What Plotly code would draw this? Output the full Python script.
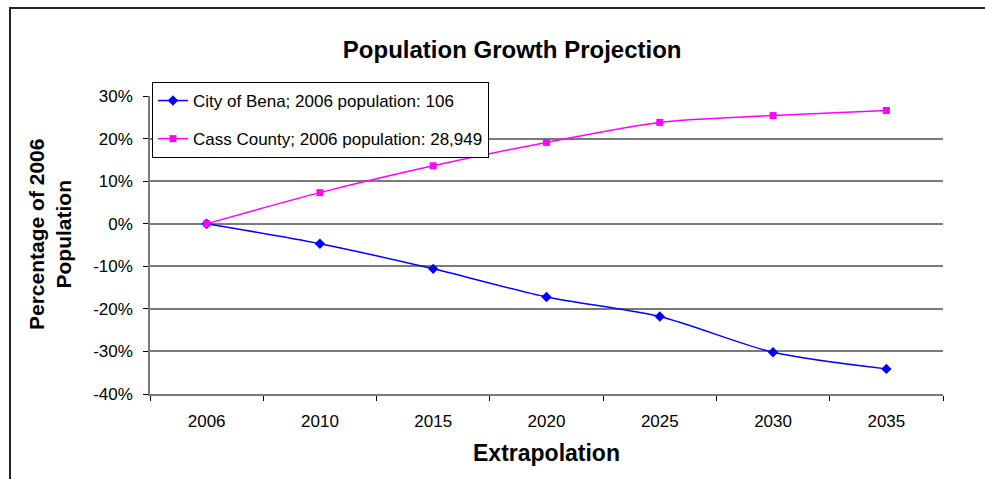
import plotly.graph_objects as go

years = ["2006", "2010", "2015", "2020", "2025", "2030", "2035"]
bena = [0.0, -0.047, -0.106, -0.172, -0.218, -0.302, -0.341]
cass = [0.0, 0.073, 0.136, 0.191, 0.238, 0.254, 0.266]
bena_name = "City of Bena; 2006 population: 106"
cass_name = "Cass County; 2006 population: 28,949"
y_ticks = [-0.4, -0.3, -0.2, -0.1, 0.0, 0.1, 0.2, 0.3]
y_tick_text = ["-40%", "-30%", "-20%", "-10%", "0%", "10%", "20%", "30%"]

FONT = "Liberation Sans, Arial, sans-serif"
GRID = "#7a7a7a"

fig = go.Figure()
fig.add_trace(go.Scatter(
    x=years, y=bena, name=bena_name, mode="lines+markers", legendgroup="a",
    line=dict(color="#0000FF", width=1.5, shape="spline", smoothing=0.8),
    marker=dict(symbol="diamond", size=8, color="#0000FF"),
))
fig.add_trace(go.Scatter(
    x=years, y=cass, name=cass_name, mode="lines+markers", legendgroup="b",
    line=dict(color="#FF00FF", width=1.5, shape="spline", smoothing=0.8),
    marker=dict(symbol="square", size=7, color="#FF00FF"),
))

fig.update_layout(
    width=985, height=479,
    margin=dict(l=150, r=42, t=96, b=85),
    paper_bgcolor="white", plot_bgcolor="white",
    font=dict(family=FONT, size=17, color="black"),
    title=dict(text="<b>Population Growth Projection</b>", x=0.52, xanchor="center",
               y=1 - 50 / 479, yanchor="middle", yref="container",
               font=dict(family=FONT, size=24, color="black")),
    showlegend=True,
    legend=dict(x=0.0025, y=1.047, xanchor="left", yanchor="top",
                bgcolor="white", bordercolor="black", borderwidth=1,
                tracegroupgap=13, font=dict(family=FONT, size=17, color="black")),
    xaxis=dict(type="category", showgrid=False, showline=True, linecolor=GRID, linewidth=1.5,
               ticks="outside", tickson="boundaries", ticklen=5, tickcolor="black", tickwidth=1,
               ticklabelstandoff=11, range=[-0.5, 6.5], fixedrange=True),
    yaxis=dict(range=[-0.4, 0.3], tickvals=y_ticks, ticktext=y_tick_text,
               showgrid=True, gridcolor=GRID, gridwidth=1.5, zeroline=False,
               showline=True, linecolor=GRID, linewidth=1.5,
               ticks="outside", ticklen=5, tickcolor="black", tickwidth=1,
               ticklabelstandoff=7),
    annotations=[
        dict(text="<b>Extrapolation</b>", xref="paper", yref="paper", x=0.5, y=(394 - 453) / 298,
             xanchor="center", yanchor="middle", showarrow=False,
             font=dict(family=FONT, size=23, color="black")),
        dict(text="<b>Percentage of 2006<br>Population</b>", xref="paper", yref="paper",
             x=(50 - 150) / 793, y=(394 - 235) / 298, textangle=-90,
             xanchor="center", yanchor="middle", showarrow=False, align="center",
             font=dict(family=FONT, size=21, color="black")),
    ],
    shapes=[
        dict(type="rect", xref="paper", yref="paper",
             x0=(10 - 150) / 793, x1=(995 - 150) / 793,
             y0=(394 - 490) / 298, y1=1 + (96 - 8) / 298,
             line=dict(color="#222222", width=2), layer="below"),
    ],
)

fig.write_html("out.html")
